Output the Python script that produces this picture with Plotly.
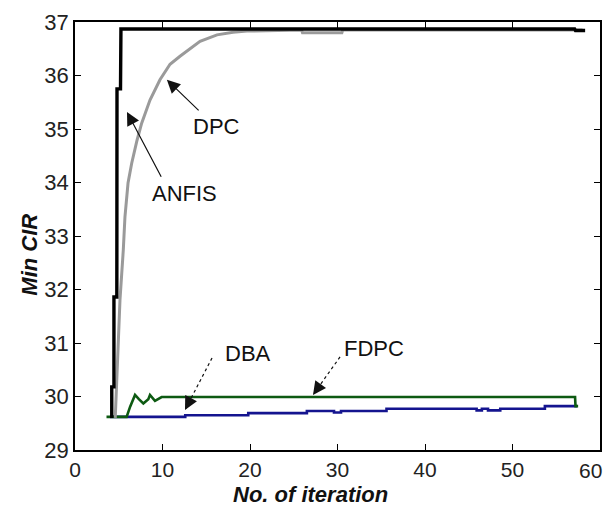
import plotly.graph_objects as go

# ---- data ----
anfis_x = [4.2, 4.2, 4.45, 4.45, 4.78, 4.8, 5.2, 5.25, 57.1, 57.2, 58.3]
anfis_y = [29.6, 30.18, 30.18, 31.86, 31.86, 35.75, 35.75, 36.87, 36.87, 36.84, 36.84]

dpc_x = [4.6, 4.69, 4.95, 5.14, 5.52, 5.71, 6.06, 6.48, 7.09, 7.62, 8.57, 9.71, 10.86,
         12.0, 14.29, 16.23, 18.06, 19.66, 25.9, 26.0, 30.5, 30.6, 58.0]
dpc_y = [29.6, 29.93, 30.86, 31.8, 32.74, 33.36, 33.99, 34.36, 34.79, 35.11, 35.54, 35.92, 36.21,
         36.36, 36.64, 36.76, 36.81, 36.83, 36.85, 36.8, 36.8, 36.85, 36.85]

dba_x = [4.0, 12.6, 19.8, 26.5, 29.6, 30.4, 35.6, 45.9, 46.5, 47.2, 48.6, 53.7, 57.4]
dba_y = [29.62, 29.65, 29.69, 29.73, 29.70, 29.73, 29.77, 29.74, 29.77, 29.74, 29.77, 29.82, 29.82]

fdpc_x = [3.6, 5.9, 6.3, 6.86, 7.3, 7.81, 8.38, 8.57, 9.14, 9.9, 57.15, 57.2, 57.5]
fdpc_y = [29.62, 29.62, 29.81, 30.03, 29.95, 29.87, 29.95, 30.03, 29.92, 29.99, 29.99, 29.82, 29.82]

x_ticks = [0, 10, 20, 30, 40, 50, 60]
y_ticks = [29, 30, 31, 32, 33, 34, 35, 36, 37]

# label: (text, text x, text y, arrow tail x, tail y, head x, head y, dashed)
labels = [
    ("DPC", 16.2, 35.04, 14.3, 35.32, 10.5, 35.92, False),
    ("ANFIS", 12.46, 33.8, 9.94, 34.08, 5.94, 35.32, False),
    ("DBA", 19.8, 30.81, 15.66, 30.72, 12.57, 29.75, True),
    ("FDPC", 34.2, 30.89, 30.29, 30.74, 27.2, 30.03, True),
]

FONT = "Liberation Sans, Arial, sans-serif"

fig = go.Figure()
fig.add_trace(go.Scatter(x=dba_x, y=dba_y, mode="lines", line=dict(color="#14148f", width=2.6, shape="hv"),
                         showlegend=False, hoverinfo="skip"))
fig.add_trace(go.Scatter(x=fdpc_x, y=fdpc_y, mode="lines", line=dict(color="#0d5a12", width=2.6),
                         showlegend=False, hoverinfo="skip"))
fig.add_trace(go.Scatter(x=dpc_x, y=dpc_y, mode="lines", line=dict(color="#9a9a9a", width=3),
                         showlegend=False, hoverinfo="skip"))
fig.add_trace(go.Scatter(x=anfis_x, y=anfis_y, mode="lines", line=dict(color="#000000", width=3.4),
                         showlegend=False, hoverinfo="skip"))

annotations = []
shapes = []
for text, tx, ty, ax_, ay_, hx, hy, dashed in labels:
    annotations.append(dict(x=tx, y=ty, xref="x", yref="y", text=text, showarrow=False,
                            font=dict(family=FONT, size=22, color="#111111")))
    if dashed:
        shapes.append(dict(type="line", xref="x", yref="y", x0=ax_, y0=ay_, x1=hx, y1=hy,
                           line=dict(color="#111111", width=1.2, dash="dot")))
        fx = hx + (ax_ - hx) * 0.25
        fy = hy + (ay_ - hy) * 0.25
        annotations.append(dict(x=hx, y=hy, ax=fx, ay=fy, xref="x", yref="y", axref="x", ayref="y",
                                text="", showarrow=True, arrowhead=2, arrowsize=2.2, arrowwidth=1.2,
                                arrowcolor="#111111"))
    else:
        annotations.append(dict(x=hx, y=hy, ax=ax_, ay=ay_, xref="x", yref="y", axref="x", ayref="y",
                                text="", showarrow=True, arrowhead=2, arrowsize=2.2, arrowwidth=1.2,
                                arrowcolor="#111111"))

annotations.append(dict(x=0.448, y=-0.105, xref="paper", yref="paper", text="<b><i>No. of iteration</i></b>",
                        showarrow=False, font=dict(family=FONT, size=22, color="#111111"),
                        xanchor="center", yanchor="middle"))
annotations.append(dict(x=-0.086, y=0.456, xref="paper", yref="paper", text="<b><i>Min CIR</i></b>",
                        showarrow=False, textangle=-90, font=dict(family=FONT, size=22, color="#111111"),
                        xanchor="center", yanchor="middle"))
# last x tick label sits against the window's right edge, so it is right-aligned there
annotations.append(dict(x=1.0, y=-0.048, xref="paper", yref="paper", text=str(x_ticks[-1]),
                        showarrow=False, font=dict(family=FONT, size=21, color="#222222"),
                        xanchor="right", yanchor="middle", xshift=4))

axis_common = dict(showgrid=False, zeroline=False, showline=True, linecolor="#000000", linewidth=1.5,
                   mirror="ticks", ticks="inside", ticklen=6, tickwidth=1.2, tickcolor="#000000",
                   automargin=False, ticklabeloverflow="allow")

fig.update_xaxes(range=[0, 60], tickvals=x_ticks, ticktext=[str(v) for v in x_ticks[:-1]] + [""],
                 tickfont=dict(family=FONT, size=21, color="#222222"), **axis_common)
fig.update_yaxes(range=[29, 37], tickvals=y_ticks, ticktext=[str(v) for v in y_ticks],
                 tickfont=dict(family=FONT, size=22, color="#222222"), **axis_common)

# the page places the figure 8px in from the window's top-left corner
fig.update_layout(width=603, height=498, margin=dict(l=67, r=11, t=14, b=56, autoexpand=False),
                  paper_bgcolor="white", plot_bgcolor="white",
                  annotations=annotations, shapes=shapes, showlegend=False)

fig.write_html("out.html")
